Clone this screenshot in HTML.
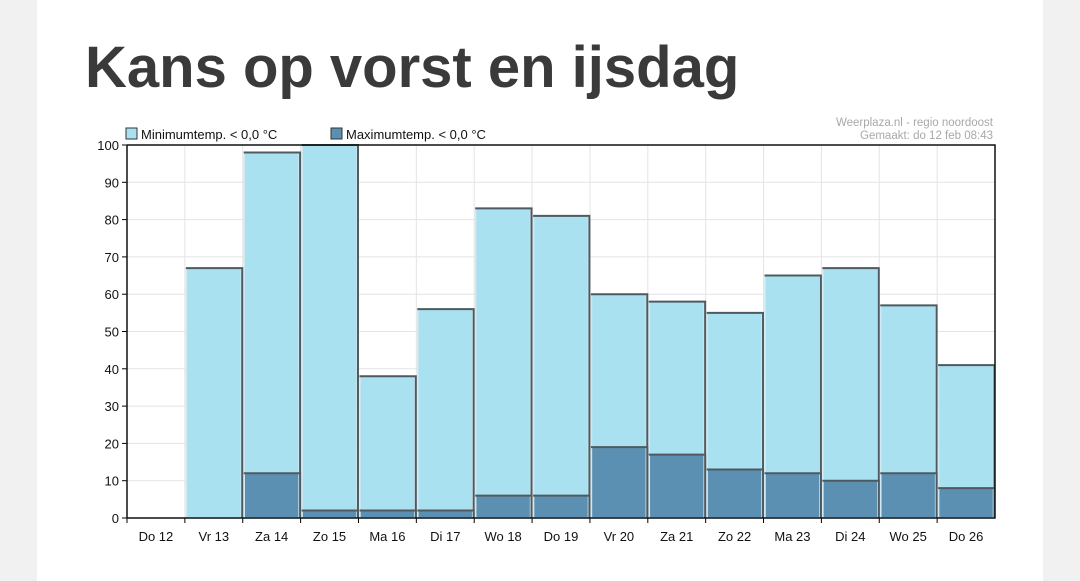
<!DOCTYPE html>
<html><head><meta charset="utf-8"><style>
body{margin:0;width:1080px;height:581px;background:#f1f1f1;overflow:hidden;font-family:"Liberation Sans",sans-serif}
#card{position:absolute;left:37px;top:0;width:1006px;height:581px;background:#fff}
h1{position:absolute;left:85px;top:34px;margin:0;font-size:58px;font-weight:bold;color:#3a3a3a;letter-spacing:0px}
svg{position:absolute;left:0;top:0}
</style></head><body>
<div id="card"></div>
<h1>Kans op vorst en ijsdag</h1>
<svg id="chart" width="1080" height="581"></svg>
<script>
const categories=["Do 12","Vr 13","Za 14","Zo 15","Ma 16","Di 17","Wo 18","Do 19","Vr 20","Za 21","Zo 22","Ma 23","Di 24","Wo 25","Do 26"];
const minTemp=[0,67,98,100,38,56,83,81,60,58,55,65,67,57,41];
const maxTemp=[0,0,12,2,2,2,6,6,19,17,13,12,10,12,8];
const yTicks=[0,10,20,30,40,50,60,70,80,90,100];
const L=127,R=995,T=145,B=518;
const svg=document.getElementById('chart');
const NS='http://www.w3.org/2000/svg';
const cw=(R-L)/categories.length;
const x=i=>L+i*cw;
const y=v=>B-(B-T)*v/100;
function mk(tag,attrs,parent){const e=document.createElementNS(NS,tag);for(const k in attrs)e.setAttribute(k,attrs[k]);(parent||svg).appendChild(e);return e;}
yTicks.forEach(t=>{const g=mk('line',{x1:L,x2:R,y1:y(t),y2:y(t),stroke:'#e4e4e4'});


const tk=mk('line',{x1:L-5,x2:L,y1:y(t),y2:y(t),stroke:'#000'});


const lb=mk('text',{x:L-8,y:y(t)+5,'text-anchor':'end','font-size':13,fill:'#111'});lb.textContent=t;

});
categories.forEach((c,i)=>{if(i>0){const g=mk('line',{x1:x(i),x2:x(i),y1:T,y2:B,stroke:'#e4e4e4'});

}
const tk=mk('line',{x1:x(i),x2:x(i),y1:B,y2:B+5,stroke:'#000'});


const lb=mk('text',{x:x(i)+cw/2,y:B+23,'text-anchor':'middle','font-size':13,fill:'#111'});lb.textContent=c;

});
function bar(i,v,fill,name){if(v<=0)return;const x0=x(i)+1.5,w=cw-3,y0=y(v);
const r=mk('rect',{x:x0,y:y0,width:w,height:B-y0,fill:fill,stroke:'#cfe9f2','stroke-width':1.5});


const e=mk('path',{d:`M${x0-0.5} ${y0} H${x0+w+1} V${B}`,fill:'none',stroke:'#4f5a60','stroke-width':2});

}
minTemp.forEach((v,i)=>bar(i,v,'#a9e1f1','bar-min-'+i));
maxTemp.forEach((v,i)=>bar(i,v,'#5b90b2','bar-max-'+i));
const ax=mk('path',{d:`M${L} ${T} V${B} H${R} V${T} H${L}`,fill:'none',stroke:'#111','stroke-width':1.5});


[[126,'#a9e1f1','Minimumtemp. < 0,0 °C','legend-min'],[331,'#5b90b2','Maximumtemp. < 0,0 °C','legend-max']].forEach(([lx,f,t,n])=>{
const r=mk('rect',{x:lx,y:128,width:11,height:11,fill:f,stroke:'#333'});


const tx=mk('text',{x:lx+15,y:139,'font-size':13,fill:'#111'});tx.textContent=t;

});
[['Weerplaza.nl - regio noordoost',126],['Gemaakt: do 12 feb 08:43',139]].forEach(([t,yy])=>{
const tx=mk('text',{x:993,y:yy,'text-anchor':'end','font-size':11.5,fill:'#a8a8a8'});tx.textContent=t;

});
</script>
</body></html>
